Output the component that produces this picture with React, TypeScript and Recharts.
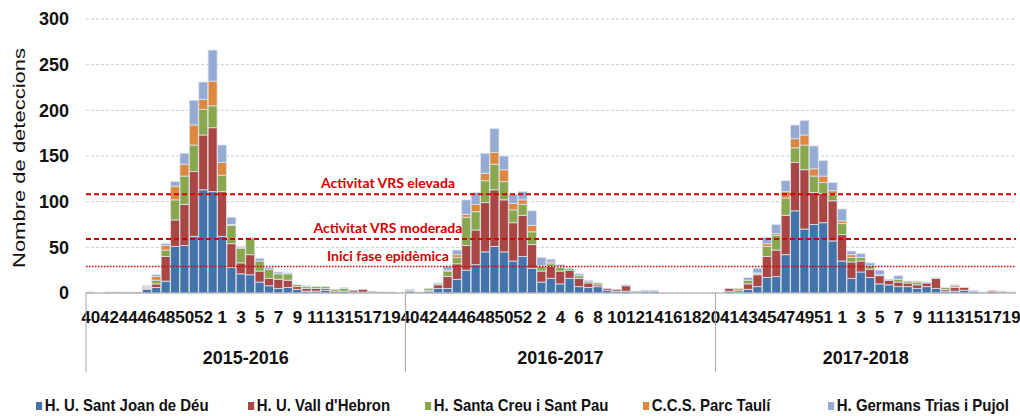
import React from "react";
import { BarChart, Bar, XAxis, YAxis, CartesianGrid, ReferenceLine, Legend } from "recharts";

// week numbers, three seasons side by side
const weeks = [
  "40", "41", "42", "43", "44", "45", "46", "47", "48", "49", "50", "51", "52", "53",
  "1", "2", "3", "4", "5", "6", "7", "8", "9", "10", "11", "12", "13", "14", "15", "16", "17", "18", "19", "20",
  "40", "41", "42", "43", "44", "45", "46", "47", "48", "49", "50", "51", "52",
  "1", "2", "3", "4", "5", "6", "7", "8", "9", "10", "11", "12", "13", "14", "15", "16", "17", "18", "19", "20",
  "40", "41", "42", "43", "44", "45", "46", "47", "48", "49", "50", "51", "52",
  "1", "2", "3", "4", "5", "6", "7", "8", "9", "10", "11", "12", "13", "14", "15", "16", "17", "18", "19",
];

const seasons = ["2015-2016", "2016-2017", "2017-2018"];
const seasonStarts = [0, 34, 67];
const seasonLengths = [34, 33, 32];

const santJoan = [
  0, 0, 0, 0, 0, 0, 4, 6, 13, 51, 52, 62, 113, 111, 62, 28, 21, 20, 12, 8, 5, 6, 4, 2, 2, 3, 0, 2, 1, 1, 0, 0, 0, 0,
  2, 0, 2, 5, 5, 15, 25, 31, 45, 51, 45, 35, 40, 27, 12, 16, 10, 16, 7, 6, 7, 3, 2, 2, 1, 2, 2, 0, 0, 0, 0, 0, 0,
  0, 2, 1, 4, 7, 17, 18, 42, 90, 70, 75, 77, 57, 35, 16, 23, 17, 10, 9, 7, 7, 5, 7, 5, 2, 2, 3, 2, 0, 0, 0, 0,
];
const vallHebron = [
  0, 0, 0, 1, 0, 1, 1, 4, 27, 29, 45, 71, 60, 70, 49, 26, 12, 22, 12, 8, 10, 8, 3, 3, 3, 2, 2, 0, 2, 3, 1, 1, 1, 0,
  1, 1, 1, 4, 13, 17, 27, 38, 54, 62, 57, 42, 45, 26, 12, 13, 14, 9, 9, 5, 2, 2, 2, 6, 0, 0, 0, 0, 0, 0, 0, 0, 0,
  0, 3, 2, 6, 13, 23, 29, 43, 53, 65, 35, 32, 44, 29, 18, 12, 9, 9, 5, 5, 4, 4, 4, 11, 2, 4, 3, 0, 0, 2, 0, 0,
];
const santPau = [
  0, 0, 1, 0, 0, 0, 1, 4, 7, 22, 31, 29, 28, 24, 18, 20, 16, 18, 11, 10, 6, 7, 2, 2, 2, 2, 2, 3, 0, 0, 1, 0, 0, 0,
  1, 0, 2, 1, 6, 7, 31, 20, 24, 28, 20, 14, 12, 14, 5, 3, 4, 2, 3, 2, 2, 0, 0, 0, 1, 0, 0, 0, 0, 0, 0, 0, 0,
  0, 0, 0, 4, 1, 11, 16, 19, 16, 27, 18, 12, 7, 12, 5, 4, 4, 1, 0, 3, 2, 3, 0, 0, 2, 0, 0, 0, 0, 0, 1, 0,
];
const parcTauli = [
  1, 0, 0, 0, 0, 0, 1, 4, 5, 15, 13, 22, 11, 27, 14, 1, 1, 0, 0, 0, 0, 0, 0, 0, 0, 0, 0, 0, 0, 0, 0, 0, 0, 0,
  0, 0, 0, 0, 1, 3, 3, 8, 8, 13, 13, 7, 5, 7, 1, 2, 1, 0, 0, 0, 0, 0, 0, 0, 0, 0, 0, 0, 0, 0, 0, 0, 0,
  0, 0, 2, 0, 1, 3, 2, 7, 10, 11, 8, 7, 4, 3, 3, 0, 0, 0, 0, 0, 0, 1, 0, 0, 0, 2, 0, 0, 0, 1, 1, 0,
];
const triasPujol = [
  0, 0, 0, 0, 1, 0, 1, 2, 2, 5, 12, 27, 19, 34, 19, 8, 1, 1, 3, 2, 2, 1, 0, 1, 0, 0, 0, 1, 0, 0, 0, 0, 0, 0,
  0, 0, 0, 1, 4, 5, 16, 13, 22, 26, 15, 10, 9, 16, 9, 3, 2, 1, 2, 1, 0, 0, 0, 1, 0, 1, 1, 0, 0, 0, 0, 0, 0,
  0, 0, 0, 3, 5, 7, 10, 12, 15, 16, 25, 17, 9, 13, 4, 4, 3, 5, 1, 4, 0, 0, 1, 1, 0, 1, 0, 1, 1, 0, 0, 1,
];

const yTicks = [0, 50, 100, 150, 200, 250, 300];

const thresholds = [
  { value: 108, label: "Activitat VRS elevada" },
  { value: 59, label: "Activitat VRS moderada" },
  { value: 29, label: "Inici fase epidèmica" },
];

const series = [
  { key: "sjd", name: "H. U. Sant Joan de Déu", color: "#4472AB", values: santJoan },
  { key: "vh", name: "H. U. Vall d'Hebron", color: "#AA4643", values: vallHebron },
  { key: "scsp", name: "H. Santa Creu i Sant Pau", color: "#89A84E", values: santPau },
  { key: "pt", name: "C.C.S. Parc Taulí", color: "#DE873E", values: parcTauli },
  { key: "gtp", name: "H. Germans Trias i Pujol", color: "#95ABD4", values: triasPujol },
];

const data = weeks.map((w, i) => {
  const row: Record<string, number | string> = { i, week: w };
  series.forEach((s) => (row[s.key] = s.values[i]));
  return row;
});

const W = 1020;
const H = 416;
const Y_AXIS_W = 86;
const RIGHT = 4;
const STEP = (W - Y_AXIS_W - RIGHT) / weeks.length;
const FONT = "'Liberation Sans', Arial, sans-serif";
const RED = "#d40000";

const SeasonTick = (props: any) => {
  const { x, y, payload } = props;
  const g = seasonStarts.indexOf(payload.value);
  if (g < 0) return <g />;
  const left = x - STEP / 2;
  const cx = left + (seasonLengths[g] * STEP) / 2;
  return (
    <g>
      <line x1={left} x2={left} y1={y - 40} y2={y + 39} stroke="#a6a6a6" strokeWidth={1} />
      <text x={cx} y={y + 31} textAnchor="middle" fontFamily={FONT} fontWeight="bold" fontSize={18} fill="#111">
        {seasons[g]}
      </text>
    </g>
  );
};

const YLabel = () => (
  <text
    transform="translate(25,158) rotate(-90) scale(1,0.74)"
    textAnchor="middle"
    fontFamily={FONT}
    fontSize={22}
    fill="#111"
  >
    Nombre de deteccions
  </text>
);

const ThresholdLabel = (props: any) => {
  const { viewBox, text } = props;
  return (
    <text
      x={viewBox.x + 302}
      y={viewBox.y - 6}
      textAnchor="middle"
      fontFamily="Lato, 'Open Sans', sans-serif"
      fontWeight="bold"
      fontSize={14}
      fill={RED}
    >
      {text}
    </text>
  );
};

const legendX = [36, 248, 425, 643, 828];

const renderLegend = () => (
  <div style={{ position: "relative", height: 21 }}>
    {series.map((s, i) => (
      <div
        key={s.key}
        style={{
          position: "absolute",
          left: legendX[i],
          top: 1,
          display: "flex",
          alignItems: "center",
          fontFamily: FONT,
          fontWeight: "bold",
          fontSize: 17,
          color: "#111",
          whiteSpace: "nowrap",
          transform: "scaleX(0.88)",
          transformOrigin: "left center",
        }}
      >
        <span style={{ width: 7, height: 8, background: s.color, marginRight: 3, display: "inline-block" }} />
        {s.name}
      </div>
    ))}
  </div>
);

export default function App() {
  return (
    <div style={{ position: "absolute", left: 0, top: 0, width: W, height: H, background: "#fff" }}>
      <BarChart
        width={W}
        height={H}
        data={data}
        margin={{ top: 19, right: RIGHT, left: 0, bottom: 0 }}
        barCategoryGap={0}
        barGap={0}
      >
        <CartesianGrid vertical={false} stroke="#cccccc" strokeDasharray="3 2" />
        <XAxis
          dataKey="i"
          interval={1}
          tickFormatter={(v: number) => weeks[v]}
          tickLine={false}
          tickSize={0}
          tickMargin={18}
          height={40}
          axisLine={{ stroke: "#a6a6a6" }}
          tick={{ fill: "#111", fontSize: 17, fontWeight: "bold", fontFamily: FONT }}
        />
        <XAxis
          xAxisId="season"
          dataKey="i"
          interval={0}
          tickLine={false}
          axisLine={false}
          tickSize={0}
          tickMargin={0}
          height={62}
          tick={<SeasonTick />}
        />
        <YAxis
          width={Y_AXIS_W}
          domain={[0, 300]}
          ticks={yTicks}
          axisLine={false}
          tickLine={false}
          tickSize={0}
          tickMargin={17}
          tick={{ fill: "#111", fontSize: 18, fontWeight: "bold", fontFamily: FONT }}
          label={<YLabel />}
        />
        {series.map((s) => (
          <Bar
            key={s.key}
            dataKey={s.key}
            name={s.name}
            stackId="a"
            fill={s.color}
            stroke="#dde4ef"
            strokeWidth={0.8}
            isAnimationActive={false}
          />
        ))}
        <ReferenceLine y={thresholds[0].value} stroke={RED} strokeWidth={2} strokeDasharray="5 3" label={<ThresholdLabel text={thresholds[0].label} />} />
        <ReferenceLine y={thresholds[1].value} stroke={RED} strokeWidth={2} strokeDasharray="5 3" label={<ThresholdLabel text={thresholds[1].label} />} />
        <ReferenceLine y={thresholds[2].value} stroke={RED} strokeWidth={1.6} strokeDasharray="1.5 1.5" label={<ThresholdLabel text={thresholds[2].label} />} />
        <Legend verticalAlign="bottom" content={renderLegend} />
      </BarChart>
    </div>
  );
}
